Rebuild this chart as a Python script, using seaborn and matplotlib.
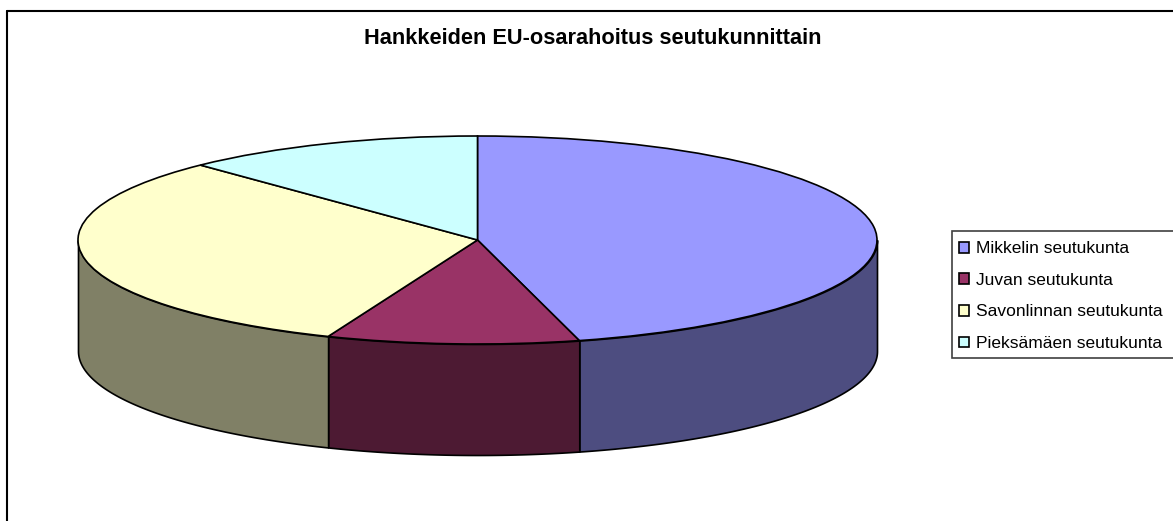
import numpy as np
import matplotlib
matplotlib.use('Agg')
import matplotlib.pyplot as plt
import seaborn as sns

labels = ['Mikkelin seutukunta', 'Juvan seutukunta', 'Savonlinnan seutukunta', 'Pieksämäen seutukunta']
shares = [45.9, 10.2, 31.7, 12.2]
top_colors = ['#9999FF', '#993366', '#FFFFCC', '#CCFFFF']
side_colors = ['#4D4D80', '#4D1A33', '#808066', '#668080']
title = 'Hankkeiden EU-osarahoitus seutukunnittain'

W, H = 1173, 521

sns.set_theme(style='white')
plt.rcParams['font.family'] = ['Liberation Sans', 'DejaVu Sans']

fig = plt.figure(figsize=(W / 100, H / 100), dpi=100, facecolor='white')

# akselit niin etta ellipsin sade = 1 kumpaankin suuntaan
depth = 111 / 104
ax = fig.add_axes([78 / W, 1 - 455 / H, 799 / W, 319 / H])

# sivuseinat: vain etupuoli nakyy (90-270 astetta kellon suuntaan ylhaalta)
cum = np.cumsum([0] + shares) / sum(shares) * 360
for i in range(len(shares)):
    a0 = max(cum[i], 90)
    a1 = min(cum[i + 1], 270)
    if a1 <= a0:
        continue
    t = np.radians(np.linspace(a0, a1, 200))
    x = np.sin(t)
    y = np.cos(t)
    ax.fill_between(x, y, y - depth, color=side_colors[i], edgecolor='black', linewidth=1.2, zorder=1)

wedges, _ = ax.pie(shares, colors=top_colors, startangle=90, counterclock=False, radius=1,
                   wedgeprops={'edgecolor': 'black', 'linewidth': 1.2, 'zorder': 2})
ax.set_aspect('auto')
ax.set_xlim(-1, 1)
ax.set_ylim(-1 - depth, 1)
for w in wedges:
    w.set_clip_on(False)
for c in ax.collections:
    c.set_clip_on(False)

# ulkokehys
fig.add_artist(plt.Line2D([6.5 / W, 6.5 / W], [0, 1 - 11 / H], color='black', lw=1.5))
fig.add_artist(plt.Line2D([6.5 / W, 1], [1 - 11 / H, 1 - 11 / H], color='black', lw=1.5))

fig.text(593 / W, 1 - 38 / H, title, ha='center', va='center', fontsize=15.7, fontweight='bold', color='black')

# selitteen kehys erikseen, oikea reuna jaa kuvan ulkopuolelle
fig.add_artist(plt.Rectangle((952 / W, 1 - 358 / H), 225 / W, 127 / H, facecolor='white',
                             edgecolor='#404040', linewidth=1.2, transform=fig.transFigure))

leg = fig.legend(wedges, labels, loc='upper left', bbox_to_anchor=(959 / W, 1 - 241.3 / H), fontsize=12.5,
                 frameon=False, borderaxespad=0, borderpad=0,
                 handlelength=0.57, handleheight=0.57, handletextpad=0.4, labelspacing=0.955,
                 labelcolor='black')

fig.savefig('out.png', dpi=100)
